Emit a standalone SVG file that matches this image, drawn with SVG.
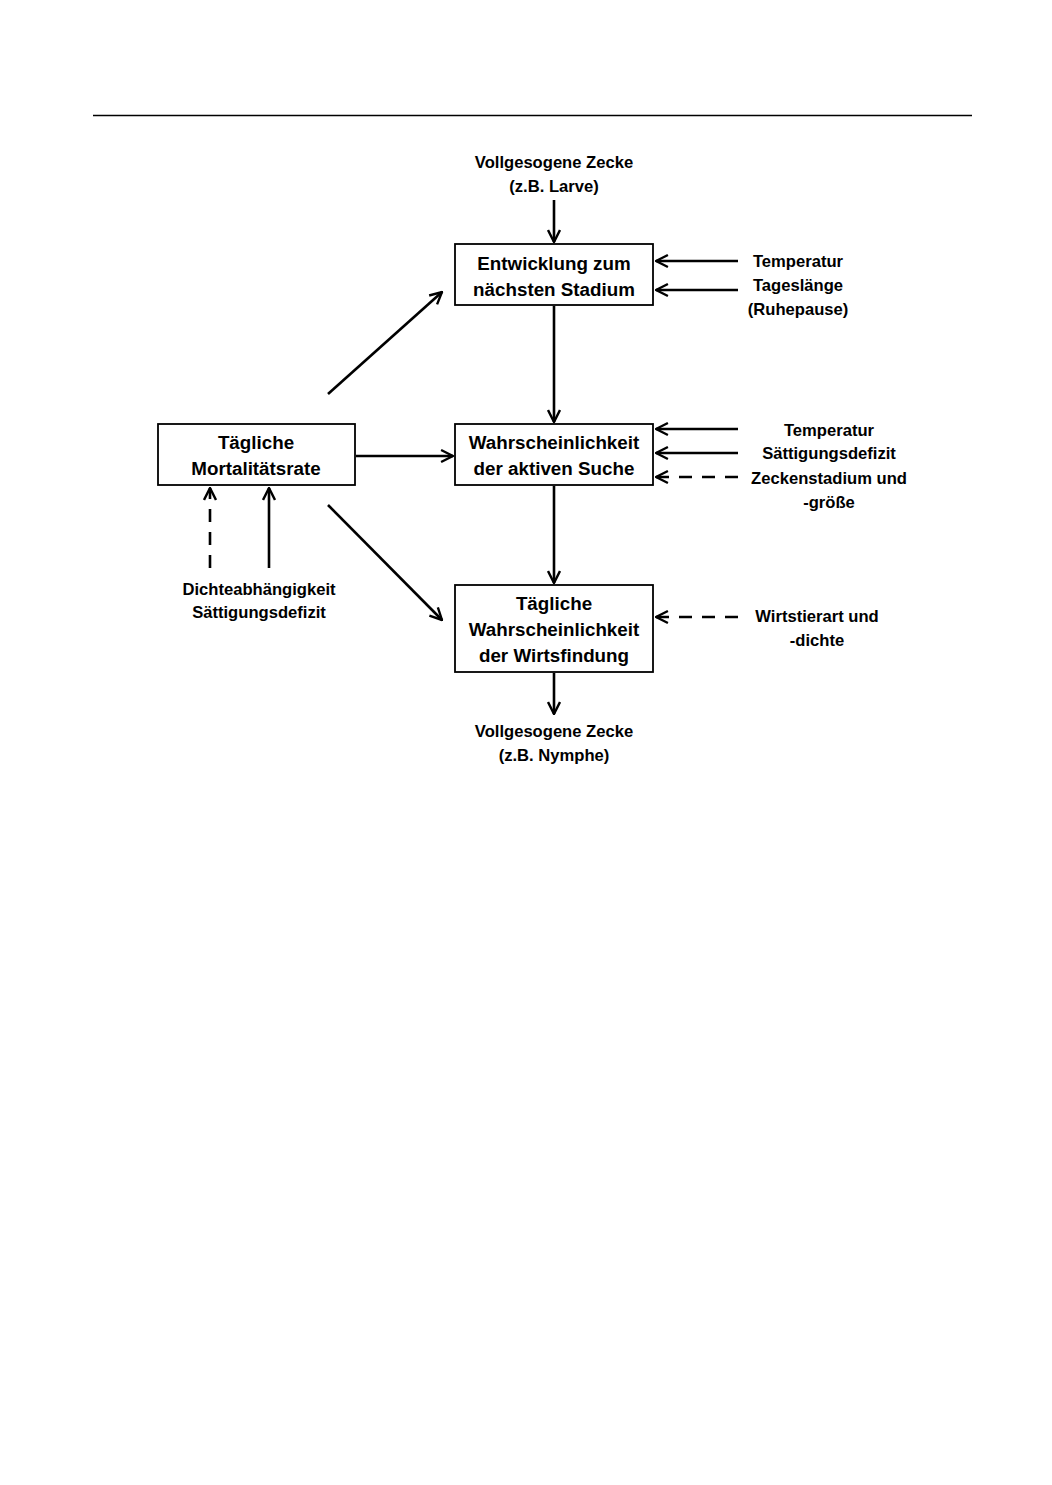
<svg xmlns="http://www.w3.org/2000/svg" width="1052" height="1485" viewBox="0 0 1052 1485">
<style>
.box{fill:#fff;stroke:#000;stroke-width:1.8}
.bt{font-family:"Liberation Sans",Arial,sans-serif;font-weight:bold;font-size:18.8px;text-anchor:middle;fill:#000}
.lt{font-family:"Liberation Sans",Arial,sans-serif;font-weight:bold;font-size:16.6px;text-anchor:middle;fill:#000}
.c{stroke:#000;stroke-width:2.6;fill:none;marker-end:url(#ah)}
.d{stroke-dasharray:13,10}
</style>
<defs>
<marker id="ah" viewBox="0 0 12 12" refX="11" refY="6" markerWidth="5.5" markerHeight="5.5" orient="auto" markerUnits="strokeWidth">
<path d="M1,1 L11,6 L1,11" fill="none" stroke="#000" stroke-width="2"/>
</marker>
</defs>
<rect width="1052" height="1485" fill="#fff"/>
<line x1="93" y1="115.5" x2="972" y2="115.5" stroke="#000" stroke-width="1.3"/>
<g id="connectors">
<line class="c" x1="554" y1="200" x2="554" y2="242"/>
<line class="c" x1="738" y1="261" x2="656" y2="261"/>
<line class="c" x1="738" y1="290" x2="656" y2="290"/>
<line class="c" x1="554" y1="306" x2="554" y2="422"/>
<line class="c" x1="738" y1="429" x2="656" y2="429"/>
<line class="c" x1="738" y1="453" x2="656" y2="453"/>
<line class="c d" x1="738" y1="477" x2="656" y2="477"/>
<line class="c" x1="554" y1="486" x2="554" y2="583"/>
<line class="c d" x1="738" y1="617" x2="656" y2="617"/>
<line class="c" x1="554" y1="673" x2="554" y2="714"/>
<line class="c" x1="356" y1="456" x2="453" y2="456"/>
<line class="c" x1="328" y1="394" x2="442" y2="292"/>
<line class="c" x1="328" y1="505" x2="442" y2="620"/>
<line class="c d" x1="210" y1="568" x2="210" y2="488"/>
<line class="c" x1="269" y1="568" x2="269" y2="488"/>
</g>
<g id="node-entwicklung">
<rect class="box" x="455" y="244" width="198" height="61"/>
<text class="bt" x="554" y="270">Entwicklung zum</text>
<text class="bt" x="554" y="296">nächsten Stadium</text>
</g>
<g id="node-suche">
<rect class="box" x="455" y="424" width="198" height="61"/>
<text class="bt" x="554" y="449">Wahrscheinlichkeit</text>
<text class="bt" x="554" y="475">der aktiven Suche</text>
</g>
<g id="node-wirtsfindung">
<rect class="box" x="455" y="585" width="198" height="87"/>
<text class="bt" x="554" y="610">Tägliche</text>
<text class="bt" x="554" y="636">Wahrscheinlichkeit</text>
<text class="bt" x="554" y="662">der Wirtsfindung</text>
</g>
<g id="node-mortalitaet">
<rect class="box" x="158" y="424" width="197" height="61"/>
<text class="bt" x="256" y="449">Tägliche</text>
<text class="bt" x="256" y="475">Mortalitätsrate</text>
</g>
<g id="label-larve">
<text class="lt" x="554" y="168">Vollgesogene Zecke</text>
<text class="lt" x="554" y="192">(z.B. Larve)</text>
</g>
<g id="label-nymphe">
<text class="lt" x="554" y="737">Vollgesogene Zecke</text>
<text class="lt" x="554" y="761">(z.B. Nymphe)</text>
</g>
<g id="label-temp1">
<text class="lt" x="798" y="267">Temperatur</text>
<text class="lt" x="798" y="291">Tageslänge</text>
<text class="lt" x="798" y="315">(Ruhepause)</text>
</g>
<g id="label-temp2">
<text class="lt" x="829" y="436">Temperatur</text>
<text class="lt" x="829" y="459">Sättigungsdefizit</text>
<text class="lt" x="829" y="484">Zeckenstadium und</text>
<text class="lt" x="829" y="508">-größe</text>
</g>
<g id="label-wirt">
<text class="lt" x="817" y="622">Wirtstierart und</text>
<text class="lt" x="817" y="646">-dichte</text>
</g>
<g id="label-dichte">
<text class="lt" x="259" y="595">Dichteabhängigkeit</text>
<text class="lt" x="259" y="618">Sättigungsdefizit</text>
</g>
</svg>
